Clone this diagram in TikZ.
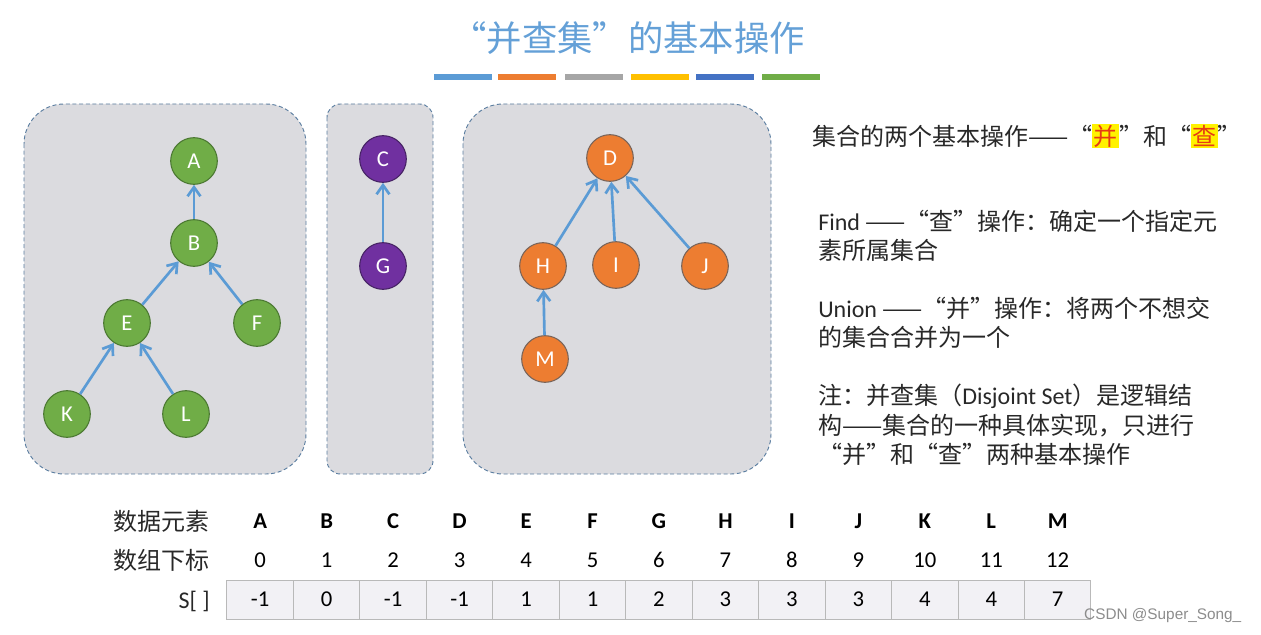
\documentclass[tikz,border=0pt]{standalone}
\usepackage{fontspec}
\setmainfont{Carlito}
\newfontfamily\cjk{Noto Sans CJK SC}
\newfontfamily\wmfont{Liberation Sans}
\usetikzlibrary{arrows.meta, positioning}

\definecolor{titleblue}{RGB}{100,160,215}
\definecolor{boxgray}{RGB}{219,219,223}
\definecolor{boxline}{RGB}{90,125,160}
\definecolor{linkblue}{RGB}{91,155,213}
\definecolor{elemgreen}{RGB}{112,173,71}
\definecolor{elemgreenline}{RGB}{75,120,50}
\definecolor{elempurple}{RGB}{112,48,160}
\definecolor{elempurpleline}{RGB}{70,35,100}
\definecolor{elemorange}{RGB}{237,125,49}
\definecolor{elemorangeline}{RGB}{120,100,90}
\definecolor{txtgray}{RGB}{40,40,40}
\definecolor{cellfill}{RGB}{242,241,245}
\definecolor{cellline}{RGB}{185,185,185}
\definecolor{hlred}{RGB}{230,60,20}

\newcommand{\hlmark}[1]{{\setlength{\fboxsep}{1pt}\colorbox{yellow}{\textcolor{hlred}{#1}}}}

\begin{document}
\begin{tikzpicture}[x=0.75pt, y=-0.75pt,
        every node/.style={font=\fontsize{17}{22}\selectfont},
        setbox/.style={draw=boxline, fill=boxgray, dash pattern=on 3pt off 2pt, line width=0.7pt},
        elem/.style={circle, minimum size=35pt, inner sep=0pt, line width=0.8pt,
            text=white, font=\fontsize{17}{17}\selectfont},
        greenelem/.style={elem, fill=elemgreen, draw=elemgreenline},
        purpleelem/.style={elem, fill=elempurple, draw=elempurpleline},
        orangeelem/.style={elem, fill=elemorange, draw=elemorangeline},
        link/.style={-{Straight Barb[length=2.4mm, width=3.4mm]}, draw=linkblue, line width=2pt},
        txt/.style={text=txtgray, align=left, inner sep=0pt, font=\fontsize{18}{22}\selectfont\cjk},
        rowlbl/.style={anchor=east, inner sep=0pt, text=txtgray, font=\fontsize{18}{22}\selectfont\cjk},
        cell/.style={draw=cellline, fill=cellfill, minimum width=49.85pt, minimum height=29.25pt,
            inner sep=0pt, outer sep=0pt, line width=0.75pt},
        bar/.style={line width=4.5pt}
    ]

    \useasboundingbox (0,0) rectangle (1261,635);

    % --- Titel ---
    \node[text=titleblue, font=\fontsize{26.5}{30}\selectfont\cjk] (title) at (628,38) {“并查集”的基本操作};

    \draw[bar, color=linkblue] (434,77) -- (492,77);
    \draw[bar, color=elemorange] (498,77) -- (556,77);
    \draw[bar, color=black!35] (565,77) -- (623,77);
    \draw[bar, color={rgb,255:red,255;green,192;blue,0}] (631,77) -- (689,77);
    \draw[bar, color={rgb,255:red,68;green,114;blue,196}] (696,77) -- (754,77);
    \draw[bar, color=elemgreen] (762,77) -- (820,77);

    % --- Mengen ---
    \draw[setbox, rounded corners=30pt] (24,104) rectangle (306,474);
    \draw[setbox, rounded corners=10pt] (327,104) rectangle (433,474);
    \draw[setbox, rounded corners=30pt] (463,104) rectangle (771,474);

    % --- Baum A ---
    \node[greenelem] (A) at (194,161) {A};
    \node[greenelem] (B) at (194,243) {B};
    \node[greenelem] (E) at (127,323) {E};
    \node[greenelem] (F) at (257,323) {F};
    \node[greenelem] (K) at (67,414) {K};
    \node[greenelem] (L) at (186,414) {L};

    \draw[link] (B) -- (A);
    \draw[link] (E) -- (B);
    \draw[link] (F) -- (B);
    \draw[link] (K) -- (E);
    \draw[link] (L) -- (E);

    % --- Baum C ---
    \node[purpleelem] (C) at (383,159) {C};
    \node[purpleelem] (G) at (383,266) {G};

    \draw[link] (G) -- (C);

    % --- Baum D ---
    \node[orangeelem] (D) at (610,158) {D};
    \node[orangeelem] (H) at (543,266) {H};
    \node[orangeelem] (I) at (616,265) {I};
    \node[orangeelem] (J) at (705,266) {J};
    \node[orangeelem] (M) at (545,359) {M};

    \draw[link] (H) -- (D);
    \draw[link] (I) -- (D);
    \draw[link] (J) -- (D);
    \draw[link] (M) -- (H);

    % --- Erklaerung ---
    \node[txt, anchor=west] (ops) at (812,136)
        {集合的两个基本操作——“\hlmark{并}”和“\hlmark{查}”};
    \node[txt, anchor=north west] (find) at (818,210)
        {{\fontspec{Carlito}Find }——“查”操作：确定一个指定元\\素所属集合};
    \node[txt, anchor=north west] (union) at (818,297)
        {{\fontspec{Carlito}Union }——“并”操作：将两个不想交\\的集合合并为一个};
    \node[txt, anchor=north west] (note) at (818,384)
        {注：并查集（{\fontspec{Carlito}Disjoint Set}）是逻辑结\\构——集合的一种具体实现，只进行\\“并”和“查”两种基本操作};

    % --- Tabelle ---
    \node[rowlbl] (elemlbl) at (210,521) {数据元素};
    \node[rowlbl] (idxlbl) at (210,560) {数组下标};
    \node[rowlbl, font=\fontsize{18}{22}\selectfont] (slbl) at (210,601) {S[ ]};

    \foreach \l [count=\i from 0] in {A,B,C,D,E,F,G,H,I,J,K,L,M}
        \node[font=\fontsize{17}{20}\selectfont\bfseries] (lt\i) at (260.2+66.46*\i,521) {\l};
    \foreach \i in {0,...,12}
        \node (ix\i) at (260.2+66.46*\i,560) {\i};
    \foreach \v [count=\i from 0] in {-1,0,-1,-1,1,1,2,3,3,3,4,4,7}
        \node[cell] (s\i) at (260.2+66.46*\i,599.5) {\v};

    \node[anchor=east, text=black!45, font=\fontsize{11.5}{12}\wmfont] (wm) at (1246,616) {CSDN @Super\_Song\_};

\end{tikzpicture}
\end{document}
